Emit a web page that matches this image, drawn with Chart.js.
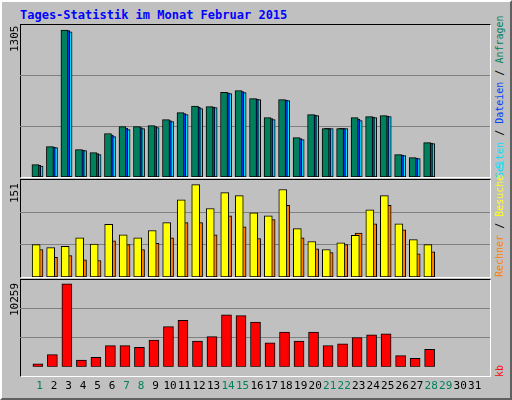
<!DOCTYPE html>
<html><head><meta charset="utf-8">
<script src="https://cdn.jsdelivr.net/npm/chart.js@4/dist/chart.umd.min.js"></script>
<style>
html,body{margin:0;padding:0;background:#c0c0c0;width:512px;height:400px;overflow:hidden;font-family:"DejaVu Sans Mono",monospace;}
#frame{position:absolute;left:0;top:0;width:508px;height:396px;border:2px solid;border-color:#fff #606060 #606060 #fff;}
.c{position:absolute;left:20px;}
.box{position:absolute;left:20px;width:471px;border:1px solid;border-color:#000 #fff #fff #000;box-sizing:border-box;}
.rot{position:absolute;transform-origin:0 0;transform:rotate(-90deg);white-space:nowrap;font-size:10px;line-height:12px;}
#title{position:absolute;left:20px;top:8px;color:#0000ff;font-weight:bold;font-size:12px;}
</style></head><body>
<div id="frame"></div>
<div id="title">Tages-Statistik im Monat Februar 2015</div>
<div class="box" style="top:24px;height:154px"></div>
<div class="box" style="top:179px;height:99px"></div>
<div class="box" style="top:279px;height:98px"></div>
<canvas id="c1" class="c" style="top:25px;width:470px;height:152px" width="470" height="152"></canvas>
<canvas id="c2" class="c" style="top:180px;width:470px;height:97px" width="470" height="97"></canvas>
<canvas id="c3" class="c" style="top:280px;width:470px;height:118px" width="470" height="118"></canvas>
<div class="rot" style="left:9px;top:52px;font-size:11px">1305</div>
<div class="rot" style="left:9px;top:203px;font-size:11px">151</div>
<div class="rot" style="left:9px;top:316px;font-size:11px">10259</div>
<div class="rot" style="left:494px;top:178px"><span style="color:#00e0ff">Seiten</span> / <span style="color:#0040ff">Dateien</span> / <span style="color:#00805c">Anfragen</span></div>
<div class="rot" style="left:494px;top:277px"><span style="color:#ff8000">Rechner</span> / <span style="color:#ffff00">Besuche</span> <span style="color:#00e0ff">S</span></div>
<div class="rot" style="left:494px;top:377px"><span style="color:#ff0000">kb</span></div>
<script>
const days = Array.from({length:31},(_,i)=>i+1);
const weekend = [1,7,8,14,15,21,22,28,29];
const hits  = [110,270,1305,243,217,386,448,448,457,510,572,629,626,753,768,697,528,688,350,555,430,430,528,537,546,199,172,305];
const files = [104,265,1300,238,208,372,434,439,448,501,563,618,621,747,759,692,519,683,341,550,430,430,514,532,541,194,167,301];
const pages = [98,261,1290,234,199,359,421,430,439,492,555,608,617,742,750,688,510,679,332,546,430,430,501,528,537,190,163,297];
const visits= [53,48,50,64,54,86,69,64,76,89,126,151,112,138,133,105,100,143,79,58,45,56,68,110,133,87,61,53];
const sites = [45,32,35,28,27,59,53,45,55,64,89,89,69,100,82,63,94,117,64,46,40,53,72,87,117,77,38,41];
const kb    = [374,1498,10259,824,1161,2621,2621,2396,3295,4980,5766,3183,3744,6440,6328,5541,2958,4306,3183,4306,2621,2846,3632,3969,4081,1385,1048,2172];

const XMIN=0.18, XMAX=31.53;
function ds(vals,off,color,w){return {data:vals.map((v,i)=>({x:i+1+off,y:v})),backgroundColor:color,borderColor:'#000',borderWidth:1,barThickness:w,borderSkipped:false,grouped:false};}
function opts(max,showX){
  return {responsive:false,animation:false,
    plugins:{legend:{display:false},tooltip:{enabled:false}},
    layout:{padding:0},
    scales:{
      x:{type:'linear',min:XMIN,max:XMAX,display:showX,grid:{display:false},border:{display:false},
        afterBuildTicks:s=>{s.ticks=days.map(d=>({value:d}));},
        ticks:{autoSkip:false,maxRotation:0,padding:5,font:{family:'DejaVu Sans Mono',size:11},
          color:c=>weekend.includes(c.tick.value)?'#00805c':'#000',callback:v=>String(v)}},
      y:{min:0,max:max,display:true,ticks:{display:false,stepSize:max/3},grid:{color:'#808080',drawTicks:false,lineWidth:c=>(c.tick.value>0&&c.tick.value<max-1)?1:0},border:{display:false}}
    }};
}
new Chart(document.getElementById('c1'),{type:'bar',data:{datasets:[
  ds(hits,-0.28,'#00805c',7),ds(files,-0.15,'#0040ff',7),ds(pages,-0.03,'#00e0ff',8)]},options:opts(1350,false)});
new Chart(document.getElementById('c2'),{type:'bar',data:{datasets:[
  ds(visits,-0.23,'#ffff00',8),ds(sites,0,'#ff8000',7)]},options:opts(158.6,false)});
new Chart(document.getElementById('c3'),{type:'bar',data:{datasets:[
  ds(kb,-0.11,'#ff0000',10)]},options:opts(10746,true)});
</script>
</body></html>
